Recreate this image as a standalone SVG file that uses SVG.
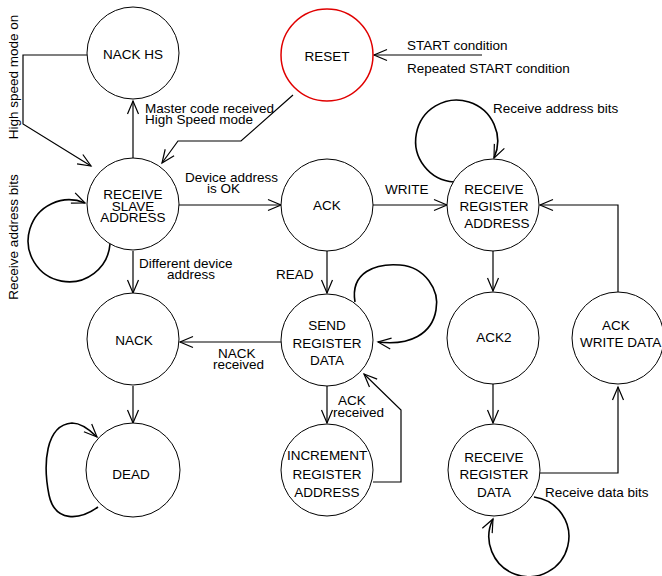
<svg xmlns="http://www.w3.org/2000/svg" width="662" height="576" viewBox="0 0 662 576">
<style>
text{font-family:"Liberation Sans",Arial,sans-serif;font-size:13.5px;fill:#000}
.m{text-anchor:middle}
.node circle{fill:#fff;stroke:#000;stroke-width:1}
#reset circle{stroke:#e00000;stroke-width:1.5}
.c path{fill:none;stroke:#000;stroke-width:1.2;marker-end:url(#a)}
.c path.l{stroke-width:1.6}
</style>
<defs>
<marker id="a" markerWidth="16" markerHeight="14" refX="13" refY="6" orient="auto" markerUnits="userSpaceOnUse" overflow="visible">
<path d="M0,0.5 L13,6 L0,11.5" fill="none" stroke="#000" stroke-width="1.2"/>
</marker>
</defs>
<rect width="662" height="576" fill="#fff"/>
<g class="c" id="connectors">
<path d="M87,55 L23,55 L23,124 L91,166"/>
<path d="M133,159 L133,101"/>
<path d="M293,95 L241,141 L178,141 L162,163"/>
<path d="M482,55 L374,55"/>
<path class="l" d="M110,244 A41,41 0 1 1 85,203"/>
<path d="M179,205 L281,205"/>
<path d="M133,251 L133,293"/>
<path d="M327,251 L327,293"/>
<path d="M373,205 L447,205"/>
<path class="l" d="M454,182 A41,41 0 1 1 494,158"/>
<path d="M493,251 L493,291"/>
<path d="M618,292 L618,205 L540,205"/>
<path d="M282,342 L180,342"/>
<path class="l" d="M355,302 C350,272 376,263 400,265 C425,267 440,290 436,310 C432,334 410,346 378,342"/>
<path d="M133,386 L133,423"/>
<path class="l" d="M98,507 C80,520 55,523 49,495 C43,465 45,425 72,423 C82,423 90,430 97,437"/>
<path d="M327,386 L327,423"/>
<path d="M373,482 L401,482 L401,410 L364,374"/>
<path d="M493,384 L493,423"/>
<path d="M540,473 L618,473 L618,387"/>
<path class="l" d="M534,497 A40,40 0 1 1 493,519"/>
</g>
<g class="node" id="nack_hs"><circle cx="133" cy="53" r="46"/><text class="m" x="133" y="59">NACK HS</text></g>
<g class="node" id="reset"><circle cx="327" cy="55" r="46"/><text class="m" x="327" y="61">RESET</text></g>
<g class="node" id="receive_slave_address"><circle cx="133" cy="204" r="46"/><text class="m" x="133" y="199">RECEIVE</text><text class="m" x="133" y="211">SLAVE</text><text class="m" x="133" y="222">ADDRESS</text></g>
<g class="node" id="ack"><circle cx="327" cy="205" r="46"/><text class="m" x="327" y="210">ACK</text></g>
<g class="node" id="receive_register_address"><circle cx="493" cy="205" r="46"/><text class="m" x="494" y="194">RECEIVE</text><text class="m" x="494" y="211">REGISTER</text><text class="m" x="497" y="228">ADDRESS</text></g>
<g class="node" id="nack"><circle cx="133" cy="339" r="46"/><text class="m" x="134" y="345">NACK</text></g>
<g class="node" id="send_register_data"><circle cx="327" cy="340" r="46"/><text class="m" x="327" y="330">SEND</text><text class="m" x="327" y="348">REGISTER</text><text class="m" x="327" y="365">DATA</text></g>
<g class="node" id="ack2"><circle cx="493" cy="338" r="46"/><text class="m" x="494" y="342">ACK2</text></g>
<g class="node" id="ack_write_data"><circle cx="618" cy="338" r="46"/><text class="m" x="616" y="330">ACK</text><text x="580" y="347">WRITE DATA</text></g>
<g class="node" id="dead"><circle cx="133" cy="470" r="47"/><text class="m" x="131" y="479">DEAD</text></g>
<g class="node" id="increment_register_address"><circle cx="327" cy="470" r="46"/><text class="m" x="327" y="460">INCREMENT</text><text class="m" x="327" y="479">REGISTER</text><text class="m" x="327" y="497">ADDRESS</text></g>
<g class="node" id="receive_register_data"><circle cx="494" cy="470" r="46"/><text class="m" x="494" y="462">RECEIVE</text><text class="m" x="494" y="479">REGISTER</text><text class="m" x="494" y="497">DATA</text></g>
<g id="labels">
<text class="m" transform="translate(18,77) rotate(-90)">High speed mode on</text>
<text class="m" transform="translate(18,237) rotate(-90)">Receive address bits</text>
<text x="145" y="113">Master code received</text>
<text x="145" y="124">High Speed mode</text>
<text x="407" y="50">START condition</text>
<text x="407" y="73">Repeated START condition</text>
<text x="493" y="113">Receive address bits</text>
<text x="185" y="182">Device address</text>
<text x="207" y="193">is OK</text>
<text x="385" y="194">WRITE</text>
<text x="139" y="268">Different device</text>
<text x="167" y="279">address</text>
<text x="276" y="279">READ</text>
<text x="218" y="358">NACK</text>
<text x="213" y="369">received</text>
<text x="338" y="405">ACK</text>
<text x="333" y="417">received</text>
<text x="545" y="497">Receive data bits</text>
</g>
</svg>
